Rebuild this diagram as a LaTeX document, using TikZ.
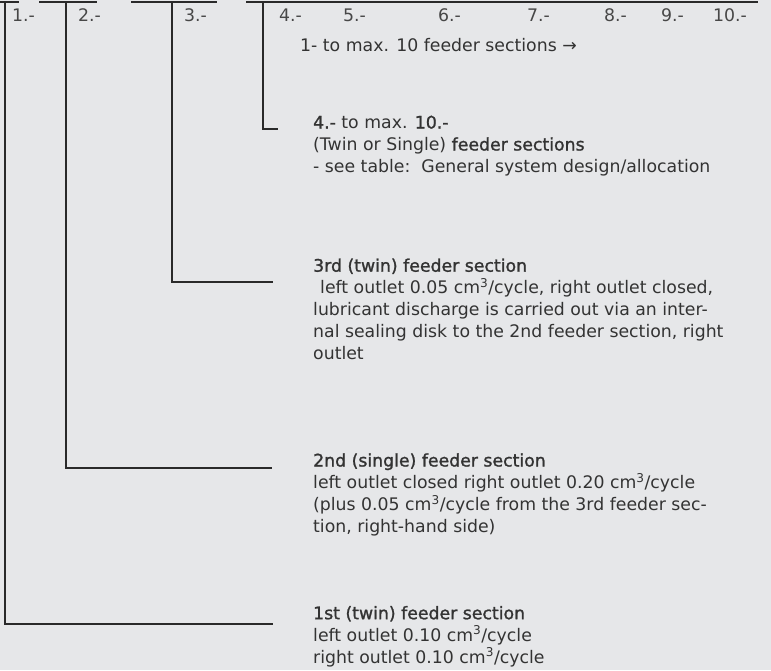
\documentclass[tikz,border=0pt]{standalone}
\usepackage{fontspec}
\setmainfont{DejaVu Sans}
\newfontfamily\semib{DejaVu Sans}[FakeBold=1.3]
\newcommand{\hd}[1]{{\semib #1}}
\definecolor{bg}{HTML}{E6E7E9}
\definecolor{ink}{HTML}{2A2A2A}
\definecolor{txt}{HTML}{333333}
\definecolor{numtxt}{HTML}{474747}
\begin{document}
\begin{tikzpicture}[x=1pt,y=-1pt,
  leader/.style={draw=ink,line width=2pt},
  num/.style={anchor=base west,inner sep=0pt,text=numtxt,font=\fontsize{17.3}{22}\selectfont},
  desc/.style={anchor=base west,inner sep=0pt,text=txt,align=left,font=\fontsize{17.3}{22}\selectfont}]
\fill[bg] (0,0) rectangle (771,670);
\useasboundingbox (0,0) rectangle (771,670);
% top bars
\draw[leader] (0,2) -- (19,2);
\draw[leader] (39,2) -- (97,2);
\draw[leader] (131,2) -- (217,2);
\draw[leader] (246,2) -- (758,2);
% section numbers
\node[num] (n1) at (12,21.5) {1.-};
\node[num] (n2) at (78,21.5) {2.-};
\node[num] (n3) at (184,21.5) {3.-};
\node[num] (n4) at (279,21.5) {4.-};
\node[num] (n5) at (343,21.5) {5.-};
\node[num] (n6) at (438,21.5) {6.-};
\node[num] (n7) at (527,21.5) {7.-};
\node[num] (n8) at (604,21.5) {8.-};
\node[num] (n9) at (661,21.5) {9.-};
\node[num] (n10) at (713,21.5) {10.-};
\node[desc] (range) at (300,51) {1- to max. 10 feeder sections →};
% descriptions (anchor = baseline of last line)
\node[desc] (d4) at (313,172.5) {\hd{4.-} to max. \hd{10.-}\\(Twin or Single) \hd{feeder sections}\\- see table:\ \ General system design/allocation};
\node[desc] (d3) at (313,359.7) {\hd{3rd (twin) feeder section}\\\hspace*{7pt}left outlet 0.05 cm\textsuperscript{3}/cycle, right outlet closed,\\lubricant discharge is carried out via an inter-\\nal sealing disk to the 2nd feeder section, right\\outlet};
\node[desc] (d2) at (313,532.5) {\hd{2nd (single) feeder section}\\left outlet closed right outlet 0.20 cm\textsuperscript{3}/cycle\\(plus 0.05 cm\textsuperscript{3}/cycle from the 3rd feeder sec-\\tion, right-hand side)};
\node[desc] (d1) at (313,663.2) {\hd{1st (twin) feeder section}\\left outlet 0.10 cm\textsuperscript{3}/cycle\\right outlet 0.10 cm\textsuperscript{3}/cycle};
% leaders
\coordinate (t1) at (5,2);
\coordinate (t2) at (66,2);
\coordinate (t3) at (172,2);
\coordinate (t4) at (263,2);
\coordinate (e1) at (273,624);
\coordinate (e2) at (272,468);
\coordinate (e3) at (273,281.5);
\coordinate (e4) at (278,129);
\draw[leader] (t1) |- (e1);
\draw[leader] (t2) |- (e2);
\draw[leader] (t3) |- (e3);
\draw[leader] (t4) |- (e4);
\end{tikzpicture}
\end{document}
